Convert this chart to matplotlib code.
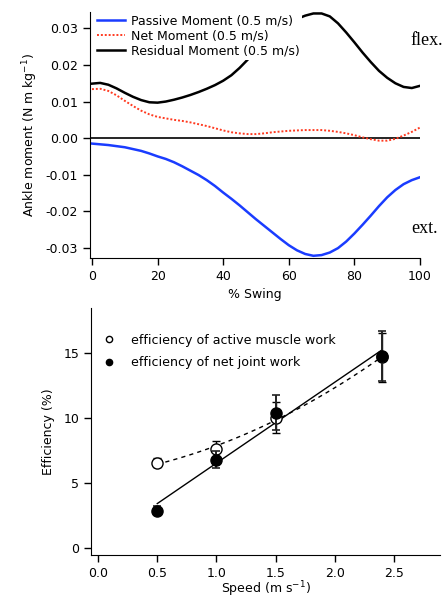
import numpy as np
import matplotlib
matplotlib.use("Agg")
import matplotlib.pyplot as plt

# --- top panel: ankle moment over swing (0.5 m/s), sampled every 2.5 %
swing = np.linspace(0, 100, 41)
passive = [-0.0015, -0.0017, -0.0019, -0.0022, -0.0025, -0.0030, -0.0035, -0.0042, -0.0050, -0.0057,
           -0.0066, -0.0077, -0.0089, -0.0101, -0.0115, -0.0131, -0.0149, -0.0166, -0.0184, -0.0203,
           -0.0222, -0.0240, -0.0258, -0.0276, -0.0293, -0.0307, -0.0317, -0.0322, -0.0320, -0.0313,
           -0.0301, -0.0283, -0.0261, -0.0237, -0.0212, -0.0186, -0.0162, -0.0142, -0.0126, -0.0115,
           -0.0107]
net = [0.0134, 0.0135, 0.0129, 0.0117, 0.0102, 0.0088, 0.0075, 0.0065, 0.0058, 0.0054,
       0.0050, 0.0047, 0.0043, 0.0038, 0.0033, 0.0027, 0.0021, 0.0016, 0.0013, 0.0011,
       0.0011, 0.0013, 0.0016, 0.0018, 0.0020, 0.0021, 0.0022, 0.0022, 0.0022, 0.0020,
       0.0017, 0.0013, 0.0008, 0.0002, -0.0003, -0.0007, -0.0007, -0.0002, 0.0007, 0.0017,
       0.0029]
residual = [0.0149, 0.0151, 0.0146, 0.0136, 0.0124, 0.0113, 0.0104, 0.0098, 0.0097, 0.0100,
            0.0105, 0.0111, 0.0118, 0.0126, 0.0135, 0.0145, 0.0157, 0.0172, 0.0192, 0.0215,
            0.0240, 0.0262, 0.0282, 0.0299, 0.0314, 0.0326, 0.0335, 0.0341, 0.0341, 0.0333,
            0.0314, 0.0289, 0.0262, 0.0234, 0.0208, 0.0184, 0.0165, 0.0150, 0.0140, 0.0137,
            0.0143]

# --- bottom panel: efficiency vs speed
speed = [0.5, 1.0, 1.5, 2.4]
eff_active = [6.55, 7.6, 10.05, 14.7]
err_active = [0.35, 0.6, 1.2, 1.9]
eff_net = [2.85, 6.8, 10.4, 14.8]
err_net = [0.35, 0.65, 1.35, 1.9]

plt.rcParams['font.family'] = 'DejaVu Sans'
plt.rcParams['font.size'] = 9

fig = plt.figure(figsize=(4.43, 5.99), dpi=100)

ax = fig.add_axes([90/443, 1-258/599, 330/443, 246/599])
ax.axhline(0, color='black', lw=1.2, zorder=1)
ax.plot(swing, passive, color='#1a3cff', lw=1.8, label='Passive Moment (0.5 m/s)')
ax.plot(swing, net, color='#ff3a20', lw=1.4, ls=(0, (1, 1)), label='Net Moment (0.5 m/s)')
ax.plot(swing, residual, color='black', lw=1.8, label='Residual Moment (0.5 m/s)')
ax.set_xlim(-0.6, 100)
ax.set_ylim(-0.0328, 0.0345)
ax.set_xticks([0, 20, 40, 60, 80, 100])
ax.set_yticks([-0.03, -0.02, -0.01, 0.0, 0.01, 0.02, 0.03])
ax.set_yticklabels(['-0.03', '-0.02', '-0.01', '0.00', '0.01', '0.02', '0.03'])
for s in ['top', 'right']:
    ax.spines[s].set_visible(False)
ax.tick_params(direction='out', length=5, width=1)
ax.set_xlabel('% Swing', labelpad=4)
ax.set_ylabel('Ankle moment (N m kg$^{-1}$)', labelpad=4)
leg = ax.legend(loc='upper left', bbox_to_anchor=(0.015, 1.0), frameon=True,
                facecolor='white', edgecolor='none', framealpha=1, fancybox=False,
                handlelength=2.2, handletextpad=0.5, labelspacing=0.15, borderpad=0.2,
                borderaxespad=0)
leg.set_zorder(5)
ax.text(1.07, 0.885, 'flex.', transform=ax.transAxes, ha='right', va='center',
        family='Liberation Serif', fontsize=13, clip_on=False)
ax.text(1.055, 0.12, 'ext.', transform=ax.transAxes, ha='right', va='center',
        family='Liberation Serif', fontsize=13, clip_on=False)

# bottom
ax2 = fig.add_axes([91/443, 1-555/599, 349/443, 247/599])
xs = np.linspace(min(speed), max(speed), 100)
p_net = np.polyfit(speed, eff_net, 1)
p_act = np.polyfit(speed, eff_active, 2)
ax2.plot(xs, np.polyval(p_net, xs), color='black', lw=1)
ax2.plot(xs, np.polyval(p_act, xs), color='black', lw=1, ls=(0, (3, 3)))
ax2.errorbar(speed, eff_active, yerr=err_active, fmt='o', mfc='white', mec='black',
             ms=8, mew=1, ecolor='black', elinewidth=1, capsize=3, zorder=3)
ax2.errorbar(speed, eff_net, yerr=err_net, fmt='o', mfc='black', mec='black',
             ms=8, ecolor='#222222', elinewidth=1.4, capsize=3, capthick=1.2, zorder=4)
ax2.plot([], [], 'o', mfc='white', mec='black', ms=4.5, label='efficiency of active muscle work')
ax2.plot([], [], 'o', mfc='black', mec='black', ms=4.5, label='efficiency of net joint work')
ax2.legend(loc='upper left', bbox_to_anchor=(0.02, 0.917), frameon=False,
           handlelength=1.0, handletextpad=1.2, labelspacing=0.75, borderaxespad=0,
           fontsize=9.1)
ax2.set_xlim(-0.06, 2.89)
ax2.set_ylim(-0.56, 18.5)
ax2.set_xticks([0.0, 0.5, 1.0, 1.5, 2.0, 2.5])
ax2.set_xticklabels(['0.0', '0.5', '1.0', '1.5', '2.0', '2.5'])
ax2.set_yticks([0, 5, 10, 15])
for s in ['top', 'right']:
    ax2.spines[s].set_visible(False)
ax2.tick_params(direction='out', length=5, width=1)
ax2.set_xlabel('Speed (m s$^{-1}$)', labelpad=0)
ax2.set_ylabel('Efficiency (%)', labelpad=6)

fig.savefig('out.png', dpi=100)
